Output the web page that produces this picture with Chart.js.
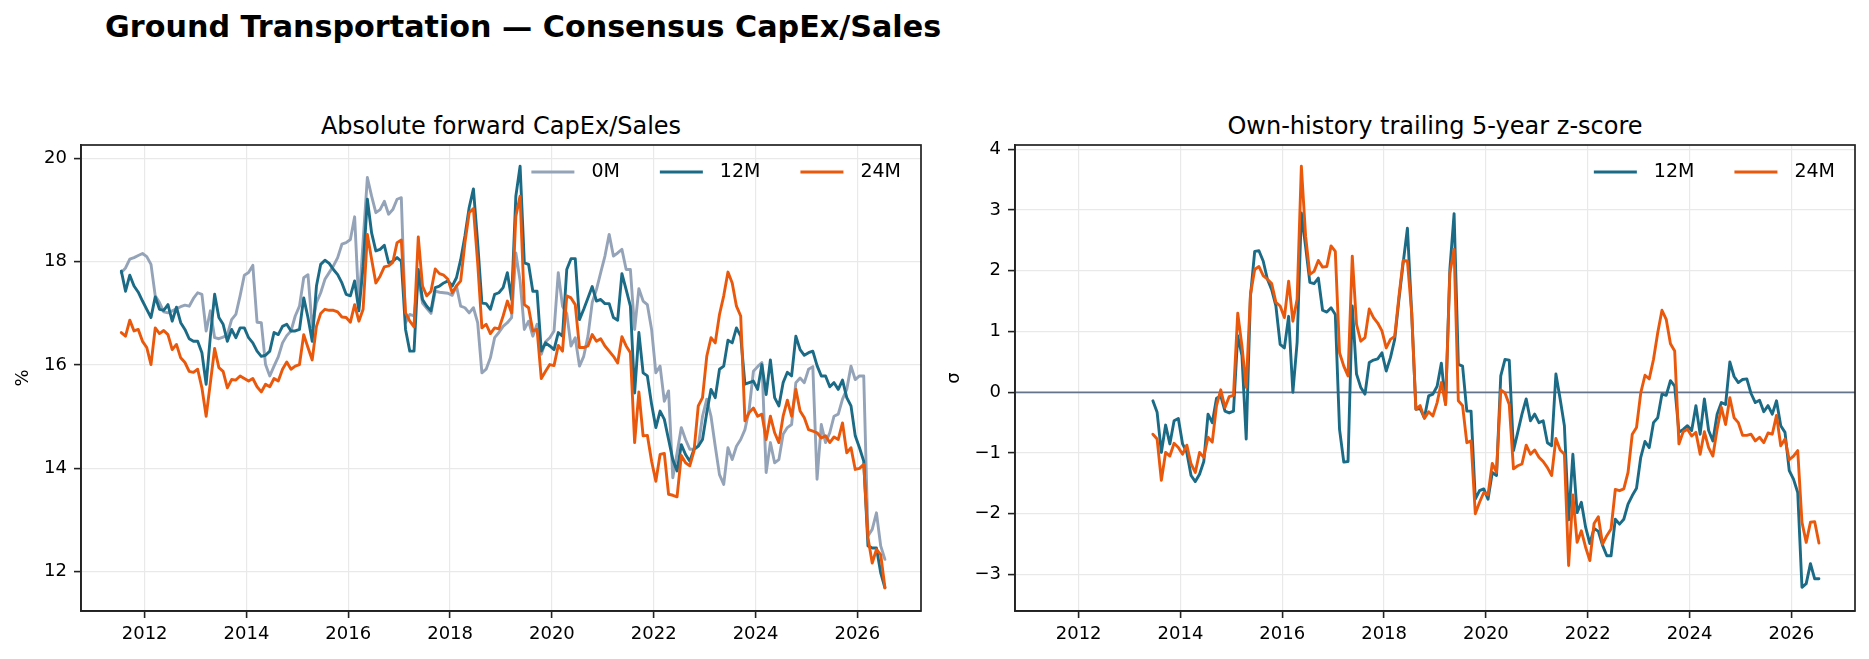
<!DOCTYPE html>
<html><head><meta charset="utf-8">
<script src="https://cdn.jsdelivr.net/npm/chart.js@4.4.1/dist/chart.umd.min.js"></script>
<style>
html,body{margin:0;padding:0;background:#fff;}
#wrap{position:relative;width:1869px;height:659px;overflow:hidden;font-family:"DejaVu Sans",sans-serif;background:#fff;}
.t{position:absolute;white-space:nowrap;color:#000;}
#sup{left:105px;top:12px;font-size:30.2px;font-weight:bold;line-height:30px;}
.sub{font-size:24px;line-height:24px;top:114px;transform:translateX(-50%);}
canvas{position:absolute;top:0;}
</style></head>
<body><div id="wrap">
<div id="sup" class="t">Ground Transportation — Consensus CapEx/Sales</div>
<div class="t sub" style="left:501px">Absolute forward CapEx/Sales</div>
<div class="t sub" style="left:1435px">Own-history trailing 5-year z-score</div>
<canvas id="c1" width="935" height="659" style="left:0px"></canvas>
<canvas id="c2" width="934" height="659" style="left:935px"></canvas>
</div>
<script>
// ---- data ----
const seriesNames = ['0M', '12M', '24M'];
const months = [];
for (let i = 0; i < 181; i++) {
  const y = 2011 + Math.floor((6 + i) / 12), mo = (6 + i) % 12 + 1;
  months.push(y + '-' + String(mo).padStart(2, '0'));
}
const capex0M = [
17.79,17.88,18.05,18.08,18.12,18.16,18.10,17.95,17.34,17.21,
17.03,17.01,17.05,17.09,17.13,17.16,17.14,17.29,17.40,17.37,
16.66,17.05,16.53,16.51,16.54,16.59,16.88,16.98,17.34,17.74,
17.79,17.93,16.83,16.82,16.01,15.79,15.98,16.16,16.43,16.57,
16.66,16.95,17.14,17.69,17.75,16.74,17.21,17.40,17.66,17.79,
17.92,18.08,18.34,18.37,18.43,18.87,17.15,18.40,19.63,19.27,
18.95,19.01,19.17,18.92,19.01,19.21,19.24,16.82,16.98,16.95,
17.70,17.20,17.10,17.00,17.43,17.41,17.40,17.39,17.35,17.53,
17.14,17.11,17.01,17.11,16.82,15.85,15.92,16.14,16.53,16.63,
16.75,16.82,16.92,18.17,17.63,16.69,16.85,16.56,16.79,16.21,
16.45,16.53,16.66,17.79,17.14,17.00,16.37,16.53,15.98,16.17,
16.56,17.21,17.46,17.79,18.11,18.53,18.11,18.17,18.24,17.85,
17.85,16.69,17.48,17.24,17.17,16.69,15.85,15.98,15.30,15.50,
13.82,14.30,14.79,14.56,14.37,14.37,14.43,15.01,15.34,15.01,
14.43,13.88,13.69,14.40,14.17,14.43,14.56,14.75,15.14,15.88,
15.97,16.05,13.92,14.50,14.11,14.17,14.66,14.79,14.85,15.66,
15.75,15.66,15.92,15.97,13.79,14.85,14.50,14.69,15.01,15.05,
15.34,15.53,15.98,15.72,15.79,15.79,12.69,12.82,13.14,12.50,
12.24];
const capex12M = [
17.82,17.43,17.74,17.53,17.41,17.24,17.08,16.92,17.32,17.08,
17.06,17.17,16.85,17.12,16.82,16.69,16.51,16.46,16.46,16.24,
15.63,16.56,17.37,16.92,16.79,16.46,16.69,16.53,16.72,16.72,
16.53,16.43,16.27,16.17,16.19,16.27,16.63,16.59,16.75,16.79,
16.66,16.66,16.69,17.30,16.92,16.46,17.53,17.95,18.03,17.97,
17.85,17.75,17.59,17.37,17.34,17.63,17.05,17.90,19.21,18.56,
18.21,18.24,18.32,17.98,18.01,18.08,18.01,16.69,16.27,16.27,
17.85,17.27,17.14,17.05,17.50,17.53,17.59,17.63,17.53,17.69,
18.04,18.50,19.05,19.41,18.37,17.20,17.19,17.08,17.37,17.40,
17.50,17.79,17.27,19.27,19.85,17.98,17.95,17.43,17.43,16.27,
16.43,16.37,16.30,16.63,16.56,17.85,18.06,18.06,16.88,17.08,
17.30,17.52,17.24,17.27,17.19,17.19,16.92,16.87,17.77,17.46,
17.14,15.46,16.63,15.85,15.79,15.24,14.79,15.11,14.95,14.56,
14.17,13.95,14.46,14.27,14.14,14.37,14.43,14.56,15.08,15.53,
15.37,15.92,15.98,16.48,16.43,16.72,16.56,15.63,15.66,15.69,
15.53,16.01,15.43,16.10,15.37,15.21,15.66,15.86,15.79,16.56,
16.30,16.19,16.24,16.27,15.99,15.79,15.79,15.58,15.66,15.53,
15.71,15.37,15.21,14.63,14.40,14.14,12.50,12.46,12.46,11.98,
11.69];
const capex24M = [
16.63,16.56,16.87,16.66,16.69,16.46,16.34,16.01,16.72,16.61,
16.67,16.59,16.30,16.40,16.14,16.05,15.88,15.86,15.92,15.56,
15.01,15.66,16.32,15.95,15.88,15.56,15.72,15.71,15.79,15.74,
15.69,15.74,15.58,15.48,15.63,15.58,15.74,15.69,15.92,16.06,
15.92,15.98,16.01,16.59,16.34,16.10,16.75,17.00,17.08,17.06,
17.06,17.03,16.93,16.92,16.83,17.17,16.85,17.08,18.53,18.05,
17.59,17.72,17.90,17.92,17.99,18.37,18.42,17.01,16.85,16.74,
18.48,17.53,17.34,17.43,17.86,17.77,17.74,17.66,17.40,17.53,
17.63,18.37,18.95,19.03,17.98,16.72,16.79,16.61,16.72,16.70,
16.95,17.24,17.01,18.88,19.27,17.17,17.11,16.66,16.69,15.74,
15.88,16.01,15.99,16.38,16.27,17.34,17.30,17.17,16.34,16.34,
16.37,16.59,16.46,16.51,16.37,16.27,16.17,16.04,16.55,16.37,
16.24,14.50,15.48,14.63,14.64,14.14,13.75,14.27,14.29,13.50,
13.48,13.45,14.25,14.11,14.05,14.34,15.21,15.37,16.17,16.53,
16.43,16.98,17.34,17.80,17.59,17.14,16.95,14.92,15.08,15.17,
15.01,15.05,14.56,15.01,14.69,14.50,15.01,15.32,15.01,15.53,
15.11,14.98,14.75,14.72,14.69,14.59,14.63,14.50,14.61,14.56,
14.88,14.30,14.40,13.98,14.00,14.08,12.66,12.17,12.43,12.33,
11.69];
const zStartIndex = 23; // z-scores begin at 2013-06
const z12M = [
-0.14,-0.33,-0.99,-0.54,-0.85,-0.47,-0.43,-0.85,-0.99,-1.37,
-1.47,-1.35,-1.14,-0.36,-0.50,-0.10,-0.06,-0.31,-0.34,-0.31,
0.93,0.60,-0.77,1.58,2.32,2.33,2.16,1.86,1.69,1.42,
0.79,0.73,1.25,0.00,0.82,2.95,2.40,1.81,1.79,1.88,
1.35,1.32,1.39,1.28,-0.61,-1.15,-1.14,1.42,0.30,0.08,
-0.03,0.49,0.53,0.55,0.65,0.35,0.57,0.87,1.53,2.13,
2.70,1.31,-0.28,-0.27,-0.42,-0.06,-0.03,0.10,0.48,-0.20,
2.02,2.94,0.46,0.43,-0.31,-0.31,-1.76,-1.62,-1.59,-1.76,
-1.32,-1.37,0.27,0.54,0.53,-0.96,-0.66,-0.36,-0.11,-0.47,
-0.36,-0.50,-0.47,-0.83,-0.88,0.30,-0.11,-0.55,-2.10,-1.02,
-1.98,-1.81,-2.22,-2.49,-2.24,-2.29,-2.52,-2.69,-2.69,-2.09,
-2.17,-2.09,-1.84,-1.70,-1.58,-1.07,-0.81,-0.91,-0.50,-0.42,
-0.03,-0.05,0.19,0.10,-0.66,-0.61,-0.55,-0.63,-0.22,-0.69,
-0.11,-0.63,-0.80,-0.36,-0.17,-0.20,0.50,0.26,0.16,0.21,
0.22,-0.02,-0.17,-0.13,-0.32,-0.22,-0.36,-0.14,-0.55,-0.66,
-1.29,-1.43,-1.65,-3.21,-3.15,-2.82,-3.07,-3.07];
const z24M = [
-0.69,-0.77,-1.45,-0.99,-1.05,-0.84,-0.91,-1.02,-0.87,-1.18,
-1.32,-0.99,-1.07,-0.74,-0.82,-0.22,0.04,-0.25,-0.07,-0.05,
1.30,0.76,0.08,1.61,2.02,2.07,1.92,1.86,1.79,1.48,
1.42,1.23,1.83,1.17,1.53,3.72,2.57,1.94,1.99,2.17,
2.06,2.07,2.41,2.32,0.65,0.43,0.27,2.24,1.12,0.84,
0.90,1.37,1.23,1.14,1.01,0.73,0.87,0.92,1.58,2.17,
2.16,1.31,-0.28,-0.22,-0.43,-0.32,-0.39,-0.17,0.16,-0.20,
1.96,2.35,-0.14,-0.22,-0.83,-0.80,-2.00,-1.81,-1.65,-1.69,
-1.17,-1.32,0.04,-0.01,-0.20,-1.26,-1.21,-1.18,-0.87,-1.02,
-0.95,-1.07,-1.14,-1.24,-1.37,-0.76,-0.95,-1.02,-2.85,-1.69,
-2.47,-2.28,-2.55,-2.77,-2.16,-2.05,-2.50,-2.36,-2.25,-1.60,
-1.62,-1.59,-1.32,-0.69,-0.58,-0.01,0.28,0.22,0.54,0.98,
1.35,1.20,0.80,0.68,-0.85,-0.65,-0.61,-0.72,-0.66,-1.02,
-0.65,-0.91,-1.05,-0.61,-0.25,-0.53,-0.09,-0.42,-0.50,-0.71,
-0.71,-0.69,-0.80,-0.74,-0.83,-0.67,-0.69,-0.38,-0.88,-0.77,
-1.11,-1.05,-0.96,-2.14,-2.47,-2.14,-2.13,-2.48];
const xTickYears = [2012, 2014, 2016, 2018, 2020, 2022, 2024, 2026];
const yTicksAbs = [12, 14, 16, 18, 20];
const yTicksZ = [-3, -2, -1, 0, 1, 2, 3, 4];

// ---- helpers ----
const COLORS = { '0M': '#94a3b8', '12M': '#1b6b87', '24M': '#ea580c' };
const FONT = '"DejaVu Sans", sans-serif';
const xOf = s => +s.slice(0, 4) + (+s.slice(5, 7) - 0.5) / 12;
const pts = (vals, offset) => vals.map((v, i) => ({ x: xOf(months[i + offset]), y: v }));
const fmt = v => (v < 0 ? '\u2212' + Math.abs(v) : String(v));

const framePlugin = {
  id: 'frame',
  afterDraw(chart) {
    const { ctx, chartArea: a } = chart;
    ctx.save(); ctx.strokeStyle = '#222'; ctx.lineWidth = 1.7;
    ctx.strokeRect(a.left, a.top, a.right - a.left, a.bottom - a.top);
    ctx.restore();
  }
};
const zeroPlugin = {
  id: 'zero',
  beforeDatasetsDraw(chart, args, opts) {
    if (!opts || !opts.show) return;
    const { ctx, chartArea: a, scales } = chart;
    const y = scales.y.getPixelForValue(0);
    ctx.save(); ctx.strokeStyle = '#64748b'; ctx.lineWidth = 1.8;
    ctx.beginPath(); ctx.moveTo(a.left, y); ctx.lineTo(a.right, y); ctx.stroke();
    ctx.restore();
  }
};
const legendPlugin = {
  id: 'lineLegend',
  afterDraw(chart) {
    const { ctx, chartArea: a } = chart;
    const items = chart.data.datasets;
    ctx.save();
    ctx.font = '19px ' + FONT;
    ctx.textBaseline = 'middle';
    const lineLen = 43, gap = 17, itemGap = 40, y = a.top + 27;
    let xEnd = a.right - 20;
    for (let i = items.length - 1; i >= 0; i--) {
      const d = items[i];
      const tw = ctx.measureText(d.label).width;
      const tx = xEnd - tw;
      const lx = tx - gap - lineLen;
      ctx.strokeStyle = d.borderColor; ctx.lineWidth = 3; ctx.lineCap = 'butt';
      ctx.beginPath(); ctx.moveTo(lx, y); ctx.lineTo(lx + lineLen, y); ctx.stroke();
      ctx.fillStyle = '#000'; ctx.textAlign = 'left';
      ctx.fillText(d.label, tx, y);
      xEnd = lx - itemGap;
    }
    ctx.restore();
  }
};

function ds(name, data, order) {
  return { label: name, data, borderColor: COLORS[name], backgroundColor: COLORS[name],
    borderWidth: 2.9, pointRadius: 0, tension: 0, borderJoinStyle: 'round', borderCapStyle: 'round',
    fill: false, order };
}

function makeChart(id, datasets, yTicks, ymin, ymax, yTitle, yWidth, titlePad, zero) {
  return new Chart(document.getElementById(id), {
    type: 'line',
    data: { datasets },
    plugins: [framePlugin, zeroPlugin, legendPlugin],
    options: {
      responsive: false, animation: false, devicePixelRatio: 1,
      layout: { padding: { top: 145, right: 14, bottom: 0, left: 0 } },
      plugins: { legend: { display: false }, tooltip: { enabled: false }, title: { display: false },
        zero: { show: zero } },
      scales: {
        x: {
          type: 'linear', min: 2010.75, max: 2027.25,
          afterBuildTicks: s => { s.ticks = xTickYears.map(v => ({ value: v })); },
          afterFit: s => { s.height = 48; },
          ticks: { callback: v => String(v), font: { family: FONT, size: 18 }, color: '#000',
            padding: 6, autoSkip: false, maxRotation: 0 },
          grid: { color: '#e9e9e9', lineWidth: 1.2, tickColor: '#222', tickLength: 7, tickWidth: 1.6 },
          border: { display: true, color: '#222', width: 1.7 }
        },
        y: {
          min: ymin, max: ymax,
          afterBuildTicks: s => { s.ticks = yTicks.map(v => ({ value: v })); },
          afterFit: s => { s.width = yWidth; },
          ticks: { callback: v => fmt(v), font: { family: FONT, size: 18 }, color: '#000', padding: 7 },
          grid: { color: '#e9e9e9', lineWidth: 1.2, tickColor: '#222', tickLength: 7, tickWidth: 1.6 },
          border: { display: true, color: '#222', width: 1.7 },
          title: { display: true, text: yTitle, font: { family: FONT, size: 18 }, color: '#000',
            padding: { top: titlePad, bottom: 0 } }
        }
      }
    }
  });
}

makeChart('c1', [
  ds('0M', pts(capex0M, 0), 3),
  ds('12M', pts(capex12M, 0), 2),
  ds('24M', pts(capex24M, 0), 1)
], yTicksAbs, 11.24, 20.26, '%', 81, 13, false);

makeChart('c2', [
  ds('12M', pts(z12M, zStartIndex), 2),
  ds('24M', pts(z24M, zStartIndex), 1)
], yTicksZ, -3.6, 4.07, 'σ', 80, 9, true);
</script>
</body></html>
